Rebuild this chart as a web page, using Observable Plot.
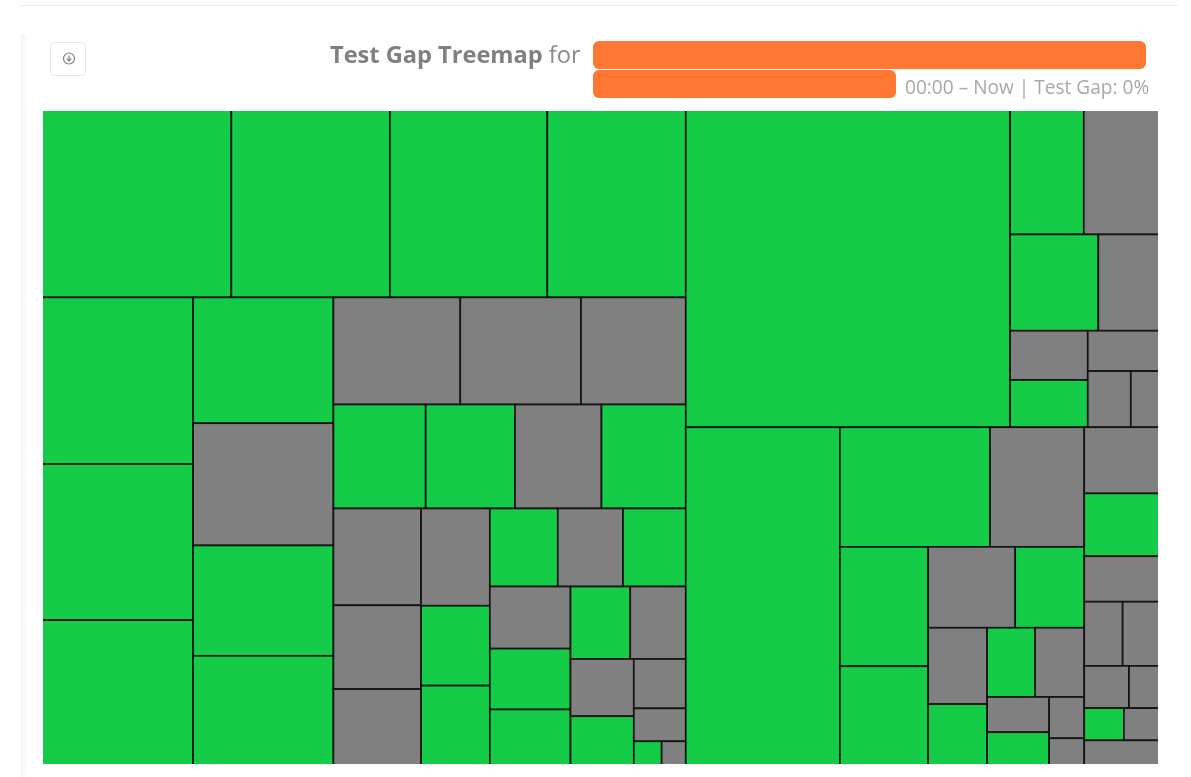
<!DOCTYPE html>
<html>
<head>
<meta charset="utf-8">
<script src="https://cdn.jsdelivr.net/npm/d3@7"></script>
<script src="https://cdn.jsdelivr.net/npm/@observablehq/plot@0.6"></script>
<style>
  html, body { margin: 0; padding: 0; background: #fff; overflow: hidden; }
  body { width: 1191px; height: 777px; position: relative; font-family: "Open Sans", sans-serif; }
  .abs { position: absolute; filter: blur(0.35px); }
  #rule { left: 20px; top: 5px; width: 1158px; height: 1px; background: #eeeeee; }
  #band { left: 20px; top: 34px; width: 6px; height: 743px; background: #f8f8f8; }
  #btn { left: 50px; top: 42px; width: 34px; height: 32px; border: 1px solid #e8e8e8; border-radius: 4px; }
  #title { left: 330px; top: 38px; font-size: 23.6px; line-height: 32px; color: #8a8a8a; white-space: nowrap; }
  #title b { font-weight: 700; color: #808080; }
  .redact { background: #ff7733; border-radius: 6px; }
  #r1 { left: 593px; top: 41px; width: 553px; height: 28px; }
  #r2 { left: 593px; top: 70px; width: 303px; height: 28px; }
  #sub { left: 905px; top: 74px; font-size: 19.1px; line-height: 26px; color: #a8a8a8; white-space: nowrap; }
  #chart { left: 43px; top: 111px; width: 1115px; height: 653px; }
  #chart svg { display: block; }
</style>
</head>
<body>
<div class="abs" id="rule"></div>
<div class="abs" id="band"></div>
<div class="abs" id="btn">
  <svg width="34" height="32" viewBox="0 0 34 32">
    <circle cx="18" cy="15.5" r="5.5" fill="none" stroke="#808080" stroke-width="1.2"/>
    <path d="M18 12.5v5M15.8 15.6l2.2 2.4 2.2-2.4" fill="none" stroke="#808080" stroke-width="1.2"/>
  </svg>
</div>
<div class="abs" id="title"><b>Test Gap Treemap</b> for</div>
<div class="abs redact" id="r1"></div>
<div class="abs redact" id="r2"></div>
<div class="abs" id="sub">00:00 – Now | Test Gap: 0%</div>
<div class="abs" id="chart"></div>
<script>
// Cell sizes, in the order the nesting below consumes them.
const topRowSizes   = [354.5, 296, 294, 258.5];
const leftColSizes  = [251, 235, 219];
const secondColSizes = [175.5, 170.5, 154, 153];
const grayRowSizes  = [135, 128.5, 111.5];
const mixedRowSizes = [95.3, 92.3, 89.3, 87.1];
const thirdColSizes = [84.3, 73, 66.5];
const fourthColSizes = [66.5, 54.6, 54.6];
const smallRowSizes = [52.7, 50.6, 48.7];
const fifthColSizes = [49.8, 48.8, 44.9];
const tinyRowSizes  = [43, 40];
const sixthColSizes = [36, 31];
const cornerSizes   = [25.5, 17, 6.7, 5.8];
const rightTopSizes = [1024, 91.5, 94, 84.5, 58.5, 38, 36.5, 28.8, 24, 16];
const rightBottomSizes = [518, 178.5, 112, 104.7, 87, 70, 55.5, 44.8, 36, 33, 33.8, 21.7, 20.5, 14.4, 9.5];
const rightEdgeSizes = [49.5, 47, 34, 24.5, 23.5, 18.8, 12.8, 12.7, 11.4, 18.8];

// 1 = tested (green), 0 = untested (gray), same order as the sizes.
const topRowTested   = [1, 1, 1, 1];
const leftColTested  = [1, 1, 1];
const secondColTested = [1, 0, 1, 1];
const grayRowTested  = [0, 0, 0];
const mixedRowTested = [1, 1, 0, 1];
const thirdColTested = [0, 0, 0];
const fourthColTested = [0, 1, 1];
const smallRowTested = [1, 0, 1];
const fifthColTested = [0, 1, 1];
const tinyRowTested  = [1, 0];
const sixthColTested = [0, 1];
const cornerTested   = [0, 0, 1, 0];
const rightTopTested = [1, 1, 0, 1, 0, 0, 1, 0, 0, 0];
const rightBottomTested = [1, 1, 0, 1, 1, 0, 1, 0, 1, 1, 0, 0, 1, 0, 0];
const rightEdgeTested = [0, 1, 0, 0, 0, 0, 0, 1, 0, 0];

const sizes = [].concat(topRowSizes, leftColSizes, secondColSizes, grayRowSizes, mixedRowSizes,
  thirdColSizes, fourthColSizes, smallRowSizes, fifthColSizes, tinyRowSizes, sixthColSizes,
  cornerSizes, rightTopSizes, rightBottomSizes, rightEdgeSizes);
const tested = [].concat(topRowTested, leftColTested, secondColTested, grayRowTested, mixedRowTested,
  thirdColTested, fourthColTested, smallRowTested, fifthColTested, tinyRowTested, sixthColTested,
  cornerTested, rightTopTested, rightBottomTested, rightEdgeTested);

// Nesting: "h" lays children side by side, "v" stacks them; "." takes the next cell.
const row = n => ["h", ...Array(n).fill(".")];
const col = n => ["v", ...Array(n).fill(".")];
const nesting = ["h",
  ["v",
    row(4),
    ["h",
      col(3),
      col(4),
      ["v",
        row(3),
        row(4),
        ["h",
          col(3),
          col(3),
          ["v",
            row(3),
            ["h",
              col(3),
              ["v",
                row(2),
                ["h", col(2), ["v", ".", ".", row(2)]]
              ]
            ]
          ]
        ]
      ]
    ]
  ],
  ["v",
    ["h",
      ".",
      ["v",
        row(2),
        row(2),
        ["h", col(2), ["v", ".", row(2)]]
      ]
    ],
    ["h",
      ".",
      ["v",
        row(2),
        ["h",
          col(2),
          ["v",
            row(2),
            ["h",
              col(2),
              ["v",
                row(2),
                ["h", col(2), col(2)]
              ]
            ]
          ]
        ]
      ],
      ["v", ".", ".", ".", row(2), row(2), row(2), "."]
    ]
  ]
];

let next = 0;
function build(node) {
  if (node === ".") { const i = next++; return {value: sizes[i], tested: tested[i]}; }
  return {dir: node[0], children: node.slice(1).map(build)};
}
const root = d3.hierarchy(build(nesting)).sum(d => d.value || 0);

const W = 1115, H = 653, bleed = 1.5;
d3.treemap()
  .size([W + 2 * bleed, H + 2 * bleed])
  .round(false)
  .tile((node, x0, y0, x1, y1) =>
    (node.data.dir === "h" ? d3.treemapDice : d3.treemapSlice)(node, x0, y0, x1, y1))(root);
const cells = root.leaves();

const chart = Plot.plot({
  width: W, height: H,
  margin: 0,
  x: {domain: [bleed, W + bleed], axis: null},
  y: {domain: [H + bleed, bleed], axis: null},
  marks: [
    Plot.rect(cells, {
      x1: "x0", x2: "x1", y1: "y0", y2: "y1",
      fill: d => d.data.tested ? "#14cc48" : "#808080",
      stroke: "#141414",
      strokeWidth: 1.7,
      clip: true
    })
  ]
});
document.getElementById("chart").appendChild(chart);
</script>
</body>
</html>
